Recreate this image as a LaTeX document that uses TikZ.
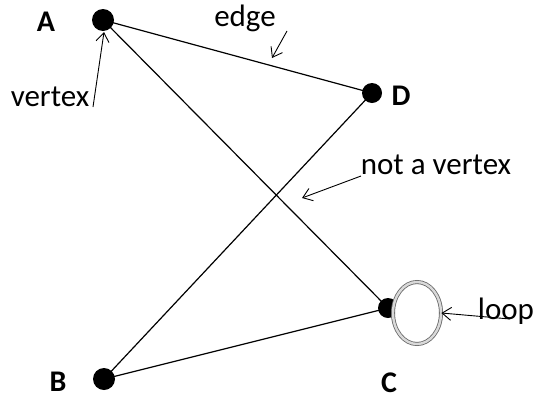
\documentclass[tikz,border=0pt]{standalone}
\usepackage{fontspec}
\setmainfont{Carlito}
\usetikzlibrary{arrows.meta,shapes.geometric}
\begin{document}
\begin{tikzpicture}[x=1pt,y=-1pt,
  vtx/.style={circle,fill=black,inner sep=0pt,minimum size=#1},
  vtx/.default=22pt,
  edgeline/.style={line width=1.2pt,black},
  note/.style={line width=0.9pt,-{Straight Barb[length=9pt,width=13pt,line width=0.9pt]}},
  vlabel/.style={font=\fontsize{30}{34}\selectfont\bfseries,inner sep=0pt},
  txt/.style={font=\fontsize{31}{35}\selectfont,inner sep=0pt}]
\useasboundingbox (0,0) rectangle (540,402);
% vertices
\node[vtx] (A) at (103,20) {};
\node[vtx=20pt] (D) at (372,93) {};
\node[vtx] (B) at (104,379) {};
\node[vtx=20pt] (C) at (388,308) {};
% edges
\draw[edgeline] (A.center) -- (D.center);
\draw[edgeline] (A.center) -- (C.center);
\draw[edgeline] (D.center) -- (B.center);
\draw[edgeline] (B.center) -- (C.center);
% loop
\node[ellipse,draw=gray!80!black,double=gray!30,double distance=2.4pt,line width=0.8pt,
      fill=white,minimum width=48pt,minimum height=62pt,inner sep=0pt] (L) at (417,313) {};
% labels
\node[vlabel] (lA) at (46,22) {A};
\node[vlabel] (lD) at (401,96) {D};
\node[vlabel] (lB) at (58,382) {B};
\node[vlabel] (lC) at (389,383) {C};
\node[txt] (tedge) at (245,18) {edge};
\node[txt] (tvertex) at (50,97) {vertex};
\node[txt] (tnot) at (436,165) {not a vertex};
\node[txt] (tloop) at (506,311) {loop};
% annotation arrows
\coordinate (s1) at (93,107);
\coordinate (e1) at (104,32);
\coordinate (s2) at (287,31);
\coordinate (e2) at (272,58);
\coordinate (s3) at (361,176);
\coordinate (e3) at (302,198);
\coordinate (s4) at (510,319);
\coordinate (e4) at (L.east);
\draw[note] (s1) -- (e1);
\draw[note] (s2) -- (e2);
\draw[note] (s3) -- (e3);
\draw[note] (s4) -- (e4);
\end{tikzpicture}
\end{document}
